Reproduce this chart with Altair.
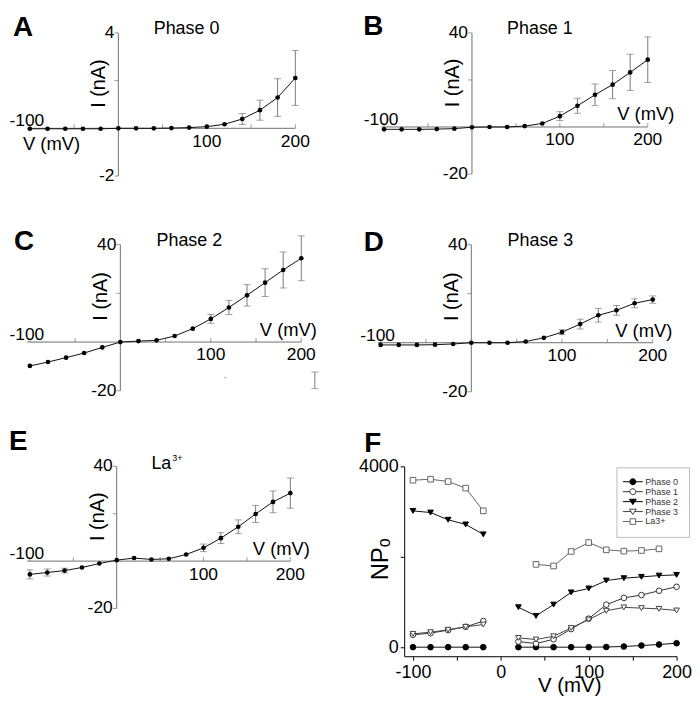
import altair as alt
import pandas as pd

FONT = "Liberation Sans"
AXC = "#707070"
ERRC = "#7a7a7a"

# ---------------- data ----------------
V = [-100, -80, -60, -40, -20, 0, 20, 40, 60, 80, 100, 120, 140, 160, 180, 200]

A_I = [-0.02, -0.02, -0.02, -0.02, -0.02, 0.0, 0.0, 0.0, 0.01, 0.03, 0.07, 0.17, 0.39, 0.76, 1.29, 2.11]
A_ERR = [0, 0, 0, 0, 0, 0, 0, 0, 0, 0, 0, 0, 0.23, 0.42, 0.79, 1.15]

B_I = [-1.0, -1.0, -1.0, -0.9, -0.7, -0.1, 0.0, 0.0, 0.4, 1.5, 4.6, 9.0, 13.7, 18.0, 23.2, 28.6]
B_ERR = [0, 0, 0, 0, 0, 0, 0, 0, 0, 0, 1.9, 3.2, 4.6, 6.0, 7.7, 9.7]

C_I = [-9.8, -8.2, -6.4, -4.5, -2.2, 0.0, 0.4, 0.7, 2.5, 5.5, 9.5, 14.2, 19.2, 24.4, 29.6, 34.4]
C_ERR = [0, 0, 0, 0, 0, 0, 0, 0, 0, 0, 1.8, 2.9, 4.4, 5.7, 7.4, 9.2]
C_STRAY_BAR_V = [215]
C_STRAY_BAR_LO = [-19.1]
C_STRAY_BAR_HI = [-12.3]
C_STRAY_DASH_V = [116]
C_STRAY_DASH_I = [-14.6]

D_I = [-0.9, -0.9, -0.9, -0.8, -0.5, 0.0, 0.0, 0.0, 0.5, 2.0, 4.3, 7.6, 11.2, 13.2, 16.1, 17.6]
D_ERR = [0, 0, 0, 0, 0, 0, 0, 0, 0, 0, 1.0, 2.0, 2.8, 2.0, 1.8, 1.5]

E_I = [-5.6, -4.8, -4.0, -2.7, -1.0, 0.4, 1.3, 0.7, 1.0, 2.8, 5.6, 9.7, 14.5, 19.9, 25.0, 28.7]
E_ERR = [1.9, 1.5, 1.0, 0, 0, 0, 0, 0, 0, 0, 1.6, 2.3, 2.9, 3.6, 4.6, 6.4]

XTICKS = [-100, -50, 50, 100, 150, 200]
XLABELS_BELOW = [100, 200]

# panel F (NPo)
SERIES = ["Phase 0", "Phase 1", "Phase 2", "Phase 3", "La3+"]
F_V_NEG = [-100, -80, -60, -40, -20]
F_V_POS = [20, 40, 60, 80, 100, 120, 140, 160, 180, 200]
F_V_POS_LA = [40, 60, 80, 100, 120, 140, 160, 180]

P0_NEG = [0, 0, 0, 0, 0]
P0_POS = [0, 0, 0, 0, 0, 5, 15, 37, 59, 88]
P1_NEG = [275, 310, 378, 450, 578]
P1_POS = [125, 80, 175, 400, 630, 940, 1090, 1153, 1248, 1336]
P2_NEG = [3015, 2978, 2818, 2715, 2496]
P2_POS = [883, 693, 942, 1212, 1299, 1474, 1526, 1555, 1584, 1599]
P3_NEG = [295, 332, 385, 450, 500]
P3_POS = [205, 170, 241, 425, 610, 805, 880, 865, 848, 812]
LA_NEG = [3693, 3715, 3664, 3518, 3015]
LA_POS = [1832, 1796, 2117, 2314, 2153, 2124, 2139, 2175]

F_DATA = {
    "Phase 0": (F_V_NEG, P0_NEG, F_V_POS, P0_POS),
    "Phase 1": (F_V_NEG, P1_NEG, F_V_POS, P1_POS),
    "Phase 2": (F_V_NEG, P2_NEG, F_V_POS, P2_POS),
    "Phase 3": (F_V_NEG, P3_NEG, F_V_POS, P3_POS),
    "La3+": (F_V_NEG, LA_NEG, F_V_POS_LA, LA_POS),
}

# ---------------- styles ----------------
STYLE = {
    "Phase 0": dict(shape="circle", fill="black", stroke="black", line="#111111"),
    "Phase 1": dict(shape="circle", fill="white", stroke="#333333", line="#333333"),
    "Phase 2": dict(shape="triangle-down", fill="black", stroke="black", line="#111111"),
    "Phase 3": dict(shape="triangle-down", fill="white", stroke="#444444", line="#444444"),
    "La3+": dict(shape="square", fill="white", stroke="#666666", line="#666666"),
}
STUB = "M-2.5,0L-{a},0M{a},0L2.5,0"
LEG_PATH = {
    "Phase 0": STUB.format(a=0.75) + "M-0.75,0A0.75,0.75,0,1,1,0.75,0A0.75,0.75,0,1,1,-0.75,0Z",
    "Phase 1": STUB.format(a=0.75) + "M-0.75,0A0.75,0.75,0,1,1,0.75,0A0.75,0.75,0,1,1,-0.75,0Z",
    "Phase 2": STUB.format(a=0.45) + "M-0.85,-0.6L0.85,-0.6L0,0.75Z",
    "Phase 3": STUB.format(a=0.45) + "M-0.85,-0.6L0.85,-0.6L0,0.75Z",
    "La3+": STUB.format(a=0.7) + "M-0.7,-0.7L0.7,-0.7L0.7,0.7L-0.7,0.7Z",
}


def X(field, dom, axis=None):
    return alt.X(f"{field}:Q", scale=alt.Scale(domain=dom, nice=False, zero=False), axis=axis)


def Y(field, dom, axis=None):
    return alt.Y(f"{field}:Q", scale=alt.Scale(domain=dom, nice=False, zero=False), axis=axis)


def texts(vs, is_, labels, xd, yd, **mk):
    d = pd.DataFrame({"v": vs, "i": is_, "t": labels})
    props = dict(font=FONT, color="black")
    props.update(mk)
    return alt.Chart(d).mark_text(**props).encode(x=X("v", xd), y=Y("i", yd), text="t:N")


def iv_panel(c):
    xd = c["xdom"]
    yd = c["ydom"]
    ylo, yhi = c["ymin"], c["ymax"]
    df = pd.DataFrame({"v": V, "i": c["i"], "e": c["err"]})
    df["lo"] = df["i"] - df["e"]
    df["hi"] = df["i"] + df["e"]
    eb = df[df["e"] > 0]
    caps = pd.concat([
        eb[["v", "lo"]].rename(columns={"lo": "i"}),
        eb[["v", "hi"]].rename(columns={"hi": "i"}),
    ])
    L = []
    # axis lines
    L.append(alt.Chart(pd.DataFrame({"v": [-103], "v2": [200], "i": [0]}))
             .mark_rule(color=AXC, strokeWidth=1)
             .encode(x=X("v", xd), x2=alt.X2("v2"), y=Y("i", yd)))
    L.append(alt.Chart(pd.DataFrame({"v": [0], "i": [ylo], "i2": [yhi]}))
             .mark_rule(color=AXC, strokeWidth=1)
             .encode(x=X("v", xd), y=Y("i", yd), y2=alt.Y2("i2")))
    # ticks
    L.append(alt.Chart(pd.DataFrame({"v": XTICKS, "i": [0] * len(XTICKS)}))
             .mark_tick(orient="vertical", size=4, thickness=1, yOffset=-2, color=AXC)
             .encode(x=X("v", xd), y=Y("i", yd)))
    L.append(alt.Chart(pd.DataFrame({"v": [0] * len(c["yticks"]), "i": c["yticks"]}))
             .mark_tick(orient="horizontal", size=4, thickness=1, xOffset=-2, color=AXC)
             .encode(x=X("v", xd), y=Y("i", yd)))
    # error bars
    L.append(alt.Chart(eb).mark_rule(color=ERRC, strokeWidth=1)
             .encode(x=X("v", xd), y=Y("lo", yd), y2=alt.Y2("hi")))
    L.append(alt.Chart(caps).mark_tick(orient="horizontal", size=7, thickness=1, color=ERRC)
             .encode(x=X("v", xd), y=Y("i", yd)))
    if c.get("stray"):
        s = c["stray"]
        sb = pd.DataFrame({"v": s["bar_v"], "lo": s["bar_lo"], "hi": s["bar_hi"]})
        L.append(alt.Chart(sb).mark_rule(color=ERRC, strokeWidth=1)
                 .encode(x=X("v", xd), y=Y("lo", yd), y2=alt.Y2("hi")))
        scap = pd.DataFrame({"v": s["bar_v"] * 2, "i": s["bar_lo"] + s["bar_hi"]})
        L.append(alt.Chart(scap).mark_tick(orient="horizontal", size=7, thickness=1, color=ERRC)
                 .encode(x=X("v", xd), y=Y("i", yd)))
        sd = pd.DataFrame({"v": s["dash_v"], "i": s["dash_i"]})
        L.append(alt.Chart(sd).mark_tick(orient="horizontal", size=3, thickness=1, color="#999999")
                 .encode(x=X("v", xd), y=Y("i", yd)))
    # data line + points
    L.append(alt.Chart(df).mark_line(color="#111111", strokeWidth=1)
             .encode(x=X("v", xd), y=Y("i", yd)))
    L.append(alt.Chart(df).mark_point(filled=True, size=22, color="black", opacity=1)
             .encode(x=X("v", xd), y=Y("i", yd)))
    # axis labels
    L.append(texts([-100], [0], ["-100"], xd, yd, align="center", baseline="alphabetic",
                   dx=-3, dy=-2, fontSize=17.5))
    L.append(texts(XLABELS_BELOW, [0, 0], [str(v) for v in XLABELS_BELOW], xd, yd,
                   align="center", baseline="alphabetic", dy=18.5, fontSize=17.5))
    L.append(texts([0, 0], [yhi, ylo], [c["ytop"], c["ybot"]], xd, yd,
                   align="right", baseline="middle", dx=-4, fontSize=17.5))
    if c["vpos"] == "left":
        L.append(texts([-100], [0], ["V (mV)"], xd, yd, align="left", baseline="alphabetic",
                       dx=c["vdx"], dy=c["vdy"], fontSize=18.5))
    else:
        L.append(texts([200], [0], ["V (mV)"], xd, yd, align="center", baseline="alphabetic",
                       dx=c["vdx"], dy=c["vdy"], fontSize=18.5))
    L.append(texts([0], [yhi / 2], ["I (nA)"], xd, yd, align="center", baseline="bottom",
                   angle=270, dx=-3, dy=-9, fontSize=20))
    # letter and title
    L.append(texts([-100], [yhi], [c["letter"]], xd, yd, align="left", baseline="alphabetic",
                   dx=c["let_dx"], dy=c["let_dy"], fontSize=28, fontWeight="bold"))
    L.append(texts([40], [yhi], [c["title"]], xd, yd, align="left", baseline="alphabetic",
                   dy=c["tdy"], fontSize=18))
    if c.get("sup"):
        L.append(texts([40], [yhi], [c["sup"]], xd, yd, align="left", baseline="alphabetic",
                       dx=c["sup_dx"], dy=c["tdy"] - 8, fontSize=9))
    return alt.layer(*L).properties(width=c["w"], height=c["h"])


PANELS = {
    "A": dict(letter="A", title="Phase 0", i=A_I, err=A_ERR, ymin=-2, ymax=4, yticks=[-2, 2, 4],
              xdom=[-100, 200], ydom=[-2, 4],
              ytop="4", ybot="-2", w=267, h=144, let_dx=-17, let_dy=3, vpos="left", vdx=-7,
              vdy=22, tdy=1),
    "B": dict(letter="B", title="Phase 1", i=B_I, err=B_ERR, ymin=-20, ymax=40, yticks=[-20, 20, 40],
              xdom=[-77.1, 200], ydom=[-20, 40],
              ytop="40", ybot="-20", w=245, h=142, let_dx=-21, let_dy=2, vpos="right", vdx=-2,
              vdy=-7, tdy=1),
    "C": dict(letter="C", title="Phase 2", i=C_I, err=C_ERR, ymin=-20, ymax=40, yticks=[-20, 20, 40],
              xdom=[-100, 200], ydom=[-22.86, 40],
              ytop="40", ybot="-20", w=273, h=154, let_dx=-16, let_dy=5, vpos="right", vdx=-13,
              vdy=-6, tdy=1,
              stray=dict(bar_v=C_STRAY_BAR_V, bar_lo=C_STRAY_BAR_LO, bar_hi=C_STRAY_BAR_HI,
                         dash_v=C_STRAY_DASH_V, dash_i=C_STRAY_DASH_I)),
    "D": dict(letter="D", title="Phase 3", i=D_I, err=D_ERR, ymin=-20, ymax=40, yticks=[-20, 20, 40],
              xdom=[-74, 200], ydom=[-22.43, 40],
              ytop="40", ybot="-20", w=250, h=154, let_dx=-17, let_dy=6, vpos="right", vdx=-9,
              vdy=-6, tdy=1),
    "E": dict(letter="E", title="La", sup="3+", sup_dx=21, i=E_I, err=E_ERR, ymin=-20, ymax=40,
              yticks=[-20, 20, 40], xdom=[-100, 200], ydom=[-20, 40],
              ytop="40", ybot="-20", w=262, h=143, let_dx=-21, let_dy=-16,
              vpos="right", vdx=-9, vdy=-6.5, tdy=3),
}


def f_panel():
    xd = [-110, 200]
    yd = [-200, 4000]
    rows = []
    for name in SERIES:
        vn, yn, vp, yp = F_DATA[name]
        for v, y in zip(vn, yn):
            rows.append(dict(series=name, seg="neg", v=v, np=y))
        for v, y in zip(vp, yp):
            rows.append(dict(series=name, seg="pos", v=v, np=y))
    fdf = pd.DataFrame(rows)
    fdf["key"] = fdf["series"] + "_" + fdf["seg"]
    fdf["lc"] = fdf["series"].map(lambda s: STYLE[s]["line"])
    fdf["fc"] = fdf["series"].map(lambda s: STYLE[s]["fill"])
    fdf["sc"] = fdf["series"].map(lambda s: STYLE[s]["stroke"])
    fdf["shp"] = fdf["series"].map(lambda s: STYLE[s]["shape"])

    xax = alt.Axis(values=[-100, -50, 0, 50, 100, 150, 200],
                   labelExpr="datum.value % 100 === 0 ? '' + datum.value : ''",
                   tickSize=4, tickColor="black", domainColor="black", grid=False,
                   labelFont=FONT, labelFontSize=18, labelColor="black", labelPadding=3,
                   labelFlush=False, labelOverlap=False,
                   title="V (mV)", titleFont=FONT, titleFontSize=20.5, titleFontWeight="normal",
                   titleColor="black", titleX=166, titleY=35, titleBaseline="alphabetic",
                   titleAlign="center")
    yax = alt.Axis(values=[0, 2000, 4000],
                   labelExpr="datum.value === 2000 ? '' : '' + datum.value",
                   tickSize=4, tickColor="black", domainColor="black", grid=False,
                   labelFont=FONT, labelFontSize=18, labelColor="black", labelPadding=2,
                   labelFlush=False, labelOverlap=False,
                   title="NPₒ", titleFont=FONT, titleFontSize=24, titleFontWeight="normal",
                   titleColor="black", titleAngle=270, titleX=-12, titleY=93,
                   titleBaseline="bottom", titleAlign="center")

    lines = alt.Chart(fdf).mark_line(strokeWidth=1).encode(
        x=X("v", xd, xax), y=Y("np", yd, yax), detail="key:N",
        stroke=alt.Stroke("lc:N", scale=None))
    pts = alt.Chart(fdf).mark_point(filled=True, size=32, strokeWidth=1, opacity=1).encode(
        x=X("v", xd, xax), y=Y("np", yd, yax),
        shape=alt.Shape("shp:N", scale=None),
        fill=alt.Fill("fc:N", scale=None),
        stroke=alt.Stroke("sc:N", scale=None))

    # legend is placed in root coordinates of the whole figure
    leg = alt.Legend(title=None, orient="none", legendX=590, legendY=437, symbolSize=64,
                     symbolStrokeWidth=1, labelFont=FONT, labelFontSize=9, labelColor="#333333",
                     strokeColor="#bbbbbb", padding=10, rowPadding=-1.0, symbolOffset=2,
                     labelOffset=8, fillColor="white")
    ldf = pd.DataFrame({"series": SERIES, "v": [-1000] * len(SERIES), "np": [2000] * len(SERIES)})
    leg_layer = alt.Chart(ldf).mark_point(filled=True, size=64, strokeWidth=1, clip=True).encode(
        x=X("v", xd, xax), y=Y("np", yd, yax),
        shape=alt.Shape("series:N", scale=alt.Scale(domain=SERIES, range=[LEG_PATH[s] for s in SERIES]),
                        legend=leg),
        fill=alt.Fill("series:N", scale=alt.Scale(domain=SERIES, range=[STYLE[s]["fill"] for s in SERIES]),
                      legend=leg),
        stroke=alt.Stroke("series:N", scale=alt.Scale(domain=SERIES, range=[STYLE[s]["stroke"] for s in SERIES]),
                          legend=leg))
    letter = (alt.Chart(pd.DataFrame({"v": [-100], "np": [4000], "t": ["F"]}))
              .mark_text(font=FONT, color="black", align="left", baseline="alphabetic",
                         dx=-49, dy=-14, fontSize=28, fontWeight="bold")
              .encode(x=X("v", xd, xax), y=Y("np", yd, yax), text="t:N"))
    return alt.layer(lines, pts, leg_layer, letter).properties(width=274, height=191)


A = iv_panel(PANELS["A"])
B = iv_panel(PANELS["B"])
C = iv_panel(PANELS["C"])
D = iv_panel(PANELS["D"])
E = iv_panel(PANELS["E"])
F = f_panel()

chart = alt.concat(A, B, C, D, E, F, columns=2, bounds="flush",
                   spacing={"row": 69, "column": 103.5}).properties(
    padding={"left": 1, "top": 3, "right": 0, "bottom": 0},
    background="white",
).configure_view(stroke=None)

chart.save("out.html", embed_options={"renderer": "svg", "actions": False})
